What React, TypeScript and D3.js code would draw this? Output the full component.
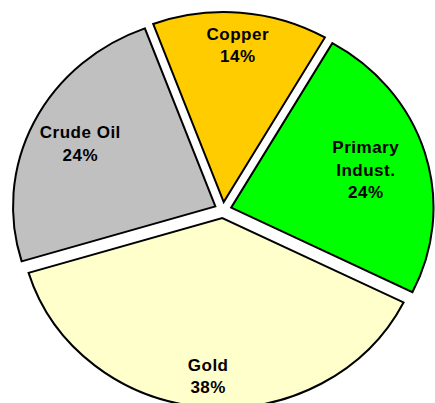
import React from "react";
import * as d3 from "d3";

const categories = ["Copper", "Primary Indust.", "Gold", "Crude Oil"];
const labelLines = [["Copper"], ["Primary", "Indust."], ["Gold"], ["Crude Oil"]];
const values = [14, 24, 38, 24];
const colors = ["#FFCC00", "#00FF00", "#FFFFCC", "#C0C0C0"];

// layout
const W = 435;
const H = 403;
const CX = 223;
const CY = 210;
const R = 190;
const SX = 1.065;
const EXPLODE = 8;
const START = (-20.4 * Math.PI) / 180;
const labelFactor = [0.83, 0.695, 0.835, 0.745];
const LH = 22.5;

export default function App() {
  const total = d3.sum(values);
  const pie = d3
    .pie<number>()
    .sort(null)
    .value((d) => d)
    .startAngle(START)
    .endAngle(START + 2 * Math.PI);
  const arcs = pie(values);
  const arcGen = d3.arc<d3.PieArcDatum<number>>().innerRadius(0).outerRadius(R);

  return (
    <svg
      width={W}
      height={H}
      style={{ position: "absolute", left: 0, top: 0, background: "#fff" }}
    >
      {arcs.map((a, i) => {
        const mid = (a.startAngle + a.endAngle) / 2;
        const dx = EXPLODE * Math.sin(mid);
        const dy = -EXPLODE * Math.cos(mid);
        return (
          <g key={categories[i]} transform={`translate(${CX},${CY}) scale(${SX},1)`}>
            <path
              d={arcGen(a) || ""}
              transform={`translate(${dx},${dy})`}
              fill={colors[i]}
              stroke="#000"
              strokeWidth={2}
              strokeLinejoin="miter"
              vectorEffect="non-scaling-stroke"
            />
          </g>
        );
      })}
      {arcs.map((a, i) => {
        const mid = (a.startAngle + a.endAngle) / 2;
        const rr = labelFactor[i] * R + EXPLODE;
        const x = CX + SX * rr * Math.sin(mid);
        const y = CY - rr * Math.cos(mid);
        const pct = Math.round((values[i] / total) * 100) + "%";
        const lines = [...labelLines[i], pct];
        const first = y - ((lines.length - 1) * LH) / 2 + 6;
        return (
          <text
            key={"l" + i}
            textAnchor="middle"
            fontFamily="'Liberation Sans', Arial, sans-serif"
            fontWeight="bold"
            fontSize={17}
            letterSpacing={0.5}
            fill="#000"
          >
            {lines.map((t, j) => (
              <tspan key={j} x={x} y={first + j * LH}>
                {t}
              </tspan>
            ))}
          </text>
        );
      })}
    </svg>
  );
}
